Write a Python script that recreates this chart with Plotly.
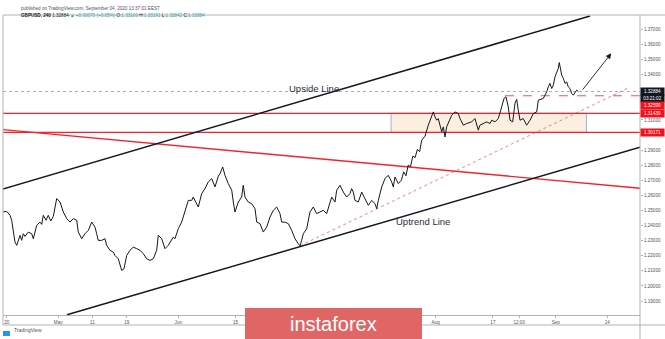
import plotly.graph_objects as go

# ---- data (x = trading-day index, 0 = Apr 20 2020; GBPUSD 4h close) ----
day = [-0.70, 0.00, 0.58, 0.87, 1.45, 1.75, 2.33, 2.62, 2.90, 3.20, 3.78, 4.37, 4.65, 5.24, 5.82, 6.12,
       6.40, 6.87, 7.27, 7.69, 8.15, 8.74, 9.32, 9.90, 10.49, 11.07, 11.65, 12.24, 12.52, 13.11, 13.69,
       14.27, 14.86, 15.44, 15.73, 16.01, 16.61, 17.19, 17.48, 18.06, 18.64, 18.93, 19.51, 20.10, 20.51,
       20.98, 21.56, 22.13, 22.73, 23.30, 23.88, 24.48, 25.05, 25.63, 26.22, 26.50, 27.10, 27.67, 28.25,
       29.13, 29.42, 30.00, 30.59, 31.17, 31.75, 32.34, 32.62, 33.50, 34.09, 34.67, 35.24, 35.84, 36.42,
       37.00, 37.29, 37.76, 38.16, 38.74, 39.34, 39.62, 39.91, 40.49, 41.08, 41.36, 41.66, 42.24, 42.83,
       43.41, 43.71, 44.28, 44.86, 45.45, 46.03, 46.61, 47.20, 47.78, 48.08, 48.65, 49.23, 49.83, 50.40,
       50.98, 51.28, 51.57, 51.85, 52.45, 53.02, 53.60, 54.20, 54.77, 55.35, 55.94, 56.22, 56.82, 57.40,
       57.69, 58.27, 58.85, 59.44, 60.02, 60.31, 60.59, 60.89, 61.47, 62.06, 62.64, 63.22, 63.81, 64.39,
       64.69, 64.97, 65.56, 66.14, 66.71, 67.31, 67.59, 67.88, 68.46, 69.00, 69.40, 69.80, 70.20, 70.60,
       71.00, 71.40, 71.80, 72.20, 72.55, 73.13, 73.71, 74.30, 74.58, 74.88, 75.17, 75.45, 75.75, 76.05,
       76.33, 76.63, 76.92, 77.50, 77.80, 78.37, 78.95, 79.25, 79.55, 79.83, 80.42, 81.00, 81.29, 81.87,
       82.45, 82.74, 83.32, 83.92, 84.49, 84.79, 85.37, 85.94, 86.54, 86.94, 87.29, 87.69, 87.99, 88.46,
       88.86, 89.16, 89.44, 89.74, 90.31, 90.91, 91.49, 92.06, 92.66, 92.94, 93.81, 94.11, 94.41, 94.69,
       94.98, 95.28, 95.56, 95.86, 96.15, 96.43, 96.61, 97.03, 97.31, 97.61, 97.90, 98.18, 98.48, 98.78,
       99.06, 99.36, 99.65, 99.94]
close = [1.2490, 1.2494, 1.2468, 1.2435, 1.2291, 1.2269, 1.2335, 1.2302, 1.2346, 1.2328, 1.2357, 1.2346,
         1.2313, 1.2401, 1.2423, 1.2408, 1.2468, 1.2435, 1.2468, 1.2430, 1.2461, 1.2579, 1.2556, 1.2490,
         1.2446, 1.2423, 1.2446, 1.2435, 1.2357, 1.2313, 1.2346, 1.2368, 1.2423, 1.2390, 1.2346, 1.2302,
         1.2302, 1.2313, 1.2269, 1.2236, 1.2224, 1.2202, 1.2180, 1.2103, 1.2114, 1.2202, 1.2236, 1.2257,
         1.2247, 1.2236, 1.2214, 1.2180, 1.2169, 1.2180, 1.2236, 1.2335, 1.2313, 1.2247, 1.2269, 1.2324,
         1.2313, 1.2379, 1.2423, 1.2501, 1.2567, 1.2567, 1.2589, 1.2523, 1.2612, 1.2645, 1.2689, 1.2711,
         1.2656, 1.2728, 1.2744, 1.2788, 1.2733, 1.2678, 1.2634, 1.2556, 1.2490, 1.2556, 1.2589, 1.2667,
         1.2589, 1.2556, 1.2545, 1.2512, 1.2423, 1.2413, 1.2357, 1.2390, 1.2456, 1.2501, 1.2523, 1.2479,
         1.2423, 1.2423, 1.2413, 1.2368, 1.2313, 1.2280, 1.2266, 1.2302, 1.2346, 1.2379, 1.2490, 1.2523,
         1.2479, 1.2490, 1.2501, 1.2479, 1.2512, 1.2589, 1.2556, 1.2634, 1.2667, 1.2622, 1.2589, 1.2612,
         1.2645, 1.2622, 1.2567, 1.2556, 1.2622, 1.2579, 1.2534, 1.2567, 1.2545, 1.2512, 1.2567, 1.2656,
         1.2711, 1.2733, 1.2689, 1.2656, 1.2722, 1.2678, 1.2700, 1.2756, 1.2730, 1.2800, 1.2790, 1.2860,
         1.2850, 1.2905, 1.2890, 1.2965, 1.2992, 1.3065, 1.3131, 1.3153, 1.3120, 1.3098, 1.3109, 1.3065,
         1.3021, 1.3054, 1.2987, 1.3054, 1.3109, 1.3131, 1.3153, 1.3142, 1.3109, 1.3087, 1.3065, 1.3076,
         1.3087, 1.3087, 1.3109, 1.3032, 1.3065, 1.3076, 1.3087, 1.3076, 1.3098, 1.3087, 1.3109, 1.3186,
         1.3242, 1.3253, 1.3186, 1.3098, 1.3087, 1.3209, 1.3236, 1.3164, 1.3098, 1.3109, 1.3065, 1.3098,
         1.3142, 1.3153, 1.3231, 1.3242, 1.3264, 1.3286, 1.3319, 1.3342, 1.3308, 1.3330, 1.3385, 1.3408,
         1.3441, 1.3480, 1.3397, 1.3375, 1.3342, 1.3352, 1.3319, 1.3308, 1.3275, 1.3264, 1.3286, 1.3297,
         1.3288]

tick_days = [0, 9, 15, 21, 30, 40, 75, 85, 89.6, 96, 105]
tick_text = ["20", "May", "11", "19", "Jun", "15", "Aug", "17", "12:00", "Sep", "14"]
price_ticks = [1.19, 1.20, 1.21, 1.22, 1.23, 1.24, 1.25, 1.26, 1.27, 1.28, 1.29, 1.31, 1.34, 1.35, 1.36, 1.37]

last_price = 1.32884
resistance = 1.31439
support = 1.30171
minor_level = 1.32599

upside_day = [-0.82, 101.98]
upside_price = [1.2640, 1.3788]
uptrend_day = [10.54, 110.72]
uptrend_price = [1.1809, 1.2919]
down_day = [-0.82, 110.72]
down_price = [1.3036, 1.2647]
dotted_day = [51.28, 108.7]
dotted_price = [1.2266, 1.3312]
box_days = [67.2, 101.35]
minor_start = 87.1
arrow_tail = (100.5, 1.3291)
arrow_head = (105.7, 1.3541)

X_RANGE = [-0.647, 110.72]
Y_RANGE = [1.18075, 1.3795]

RED = "#f5222d"
GRID = "#b0b3ba"
INK = "#131722"

fig = go.Figure()

# box
fig.add_shape(type="rect", xref="x", yref="y", x0=box_days[0], x1=box_days[1], y0=support, y1=resistance,
              fillcolor="#fcefdf", line=dict(color="#a9acd8", width=1), layer="below")

for lvl in (resistance, support):
    fig.add_trace(go.Scatter(x=X_RANGE, y=[lvl, lvl], mode="lines", line=dict(color=RED, width=1.3),
                             hoverinfo="skip"))
fig.add_trace(go.Scatter(x=X_RANGE, y=[last_price, last_price], mode="lines",
                         line=dict(color="#9598a1", width=0.8, dash="dot"), hoverinfo="skip"))
fig.add_trace(go.Scatter(x=[minor_start, X_RANGE[1]], y=[minor_level, minor_level], mode="lines",
                         line=dict(color=RED, width=0.8, dash="dash"), hoverinfo="skip"))
fig.add_trace(go.Scatter(x=dotted_day, y=dotted_price, mode="lines",
                         line=dict(color="rgba(242,54,69,0.7)", width=0.9, dash="dot"), hoverinfo="skip"))
fig.add_trace(go.Scatter(x=down_day, y=down_price, mode="lines", line=dict(color=RED, width=1.4),
                         hoverinfo="skip"))
fig.add_trace(go.Scatter(x=upside_day, y=upside_price, mode="lines", line=dict(color=INK, width=1.5),
                         hoverinfo="skip"))
fig.add_trace(go.Scatter(x=uptrend_day, y=uptrend_price, mode="lines", line=dict(color=INK, width=1.5),
                         hoverinfo="skip"))
fig.add_trace(go.Scatter(x=day, y=close, mode="lines", line=dict(color=INK, width=1.0),
                         hoverinfo="skip"))

# frame lines (paper coords)
top_y = 1.0
bot_y = -10 / 300
right_ext = (665 - 3) / 637
for s in [
    dict(x0=0, x1=right_ext, y0=top_y, y1=top_y),
    dict(x0=0, x1=0, y0=bot_y, y1=top_y),
    dict(x0=1, x1=1, y0=bot_y - 0.05, y1=top_y),
    dict(x0=0, x1=right_ext, y0=bot_y, y1=bot_y),
]:
    fig.add_shape(type="line", xref="paper", yref="paper", line=dict(color=GRID, width=1), **s)

# instaforex banner
fig.add_shape(type="rect", xref="paper", yref="paper", x0=(245 - 3) / 637, x1=(422 - 3) / 637,
              y0=-0.1, y1=(315 - 308) / 300, fillcolor="#e06666", line=dict(width=0), layer="above")
fig.add_annotation(xref="paper", yref="paper", x=(333.5 - 3) / 637, y=(315 - 337) / 300,
                   xanchor="center", yanchor="bottom",
                   text="instaforex", showarrow=False,
                   font=dict(family="Liberation Sans", size=20, color="white"))

# TradingView logo
fig.add_shape(type="rect", xref="paper", yref="paper", x0=0, x1=(10 - 3) / 637,
              y0=(315 - 336) / 300, y1=(315 - 331) / 300, fillcolor="#2196f3", line=dict(width=0))
fig.add_annotation(xref="paper", yref="paper", x=(12 - 3) / 637, y=(315 - 335) / 300, xanchor="left",
                   text="TradingView", showarrow=False, font=dict(family="Liberation Sans", size=5, color="#50535e"))

# header
fig.add_annotation(xref="paper", yref="paper", x=(19 - 3) / 637, y=(315 - 4) / 300, xanchor="left",
                   text="published on TradingView.com, September 04, 2020 13:37:01 EEST", showarrow=False,
                   font=dict(family="Liberation Sans", size=4.6, color="#50535e"))
G = "#26a69a"
hdr = ("<b>GBPUSD, 240</b> 1.32884 <span style='color:%s'>▲ +0.00070 (+0.05%%)</span> "
       "O:<span style='color:%s'>1.33100</span> H:<span style='color:%s'>1.33191</span> "
       "L:<span style='color:%s'>1.32842</span> C:<span style='color:%s'>1.32884</span>") % (G, G, G, G, G)
fig.add_annotation(xref="paper", yref="paper", x=(19 - 3) / 637, y=(315 - 10.5) / 300, xanchor="left",
                   text=hdr, showarrow=False, font=dict(family="Liberation Sans", size=4.6, color=INK))

# line labels
fig.add_annotation(x=53.7, y=1.3310, text="Upside Line", showarrow=False,
                   font=dict(family="Liberation Sans", size=9.5, color="#2a2e39"))
fig.add_annotation(x=72.7, y=1.2430, text="Uptrend Line", showarrow=False,
                   font=dict(family="Liberation Sans", size=9.5, color="#2a2e39"))

# arrow
fig.add_annotation(x=arrow_head[0], y=arrow_head[1], ax=arrow_tail[0], ay=arrow_tail[1],
                   xref="x", yref="y", axref="x", ayref="y", text="", showarrow=True,
                   arrowhead=2, arrowsize=1.2, arrowwidth=0.9, arrowcolor=INK)


def plabel(y, text, bg, yshift=0):
    fig.add_annotation(xref="paper", yref="y", x=1, y=y, xanchor="left", xshift=0, yshift=yshift,
                       text=text, showarrow=False, bgcolor=bg, width=22, height=6, borderpad=0.5,
                       font=dict(family="Liberation Sans", size=4.6, color="white"))


plabel(last_price, "1.32884", INK)
plabel(last_price, "03:21:02", INK, yshift=-7)
plabel(minor_level, "1.32599", "#f7101c", yshift=-9.4)
plabel(resistance, "1.31439", "#f7101c")
plabel(support, "1.30171", "#f7101c")

fig.update_layout(
    width=665, height=339, margin=dict(l=3, r=25, t=15, b=24),
    paper_bgcolor="white", plot_bgcolor="white", showlegend=False,
    xaxis=dict(range=X_RANGE, tickvals=tick_days, ticktext=tick_text, showgrid=False, zeroline=False,
               showline=True, linecolor=GRID, linewidth=1, ticks="outside", ticklen=2, tickcolor=GRID,
               tickfont=dict(family="Liberation Sans", size=4.6, color="#50535e"), fixedrange=True),
    yaxis=dict(range=Y_RANGE, side="right", tickvals=price_ticks, tickformat=".5f", showgrid=False,
               zeroline=False, showline=False, ticks="outside", ticklen=2, tickcolor=GRID,
               tickfont=dict(family="Liberation Sans", size=4.6, color="#50535e"), fixedrange=True),
)

fig.write_html("out.html")
